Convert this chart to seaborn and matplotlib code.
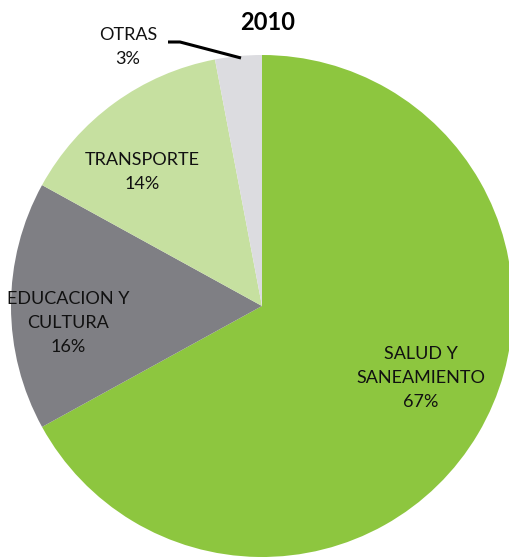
import matplotlib
matplotlib.use("Agg")
import matplotlib.pyplot as plt
import seaborn as sns

# data
categories = ["SALUD Y\nSANEAMIENTO", "EDUCACION Y\nCULTURA", "TRANSPORTE", "OTRAS"]
shares = [67, 16, 14, 3]
colors = ["#8DC63F", "#7F7F84", "#C6E0A0", "#DCDCE0"]
title = "2010"

sns.set_theme(style="white")
plt.rcParams['font.family'] = ['Lato', 'DejaVu Sans']

W, H = 509, 558
fig = plt.figure(figsize=(W / 100, H / 100), dpi=100)
ax = fig.add_axes([0, 0, 1, 1])

cx, cy, r = 262, H - 306, 251
ax.pie(shares, colors=colors, startangle=90, counterclock=False,
       center=(cx, cy), radius=r, frame=True,
       wedgeprops=dict(linewidth=0))
ax.set_xlim(0, W)
ax.set_ylim(0, H)
ax.axis('off')

# label positions in pixel coords (x, y from top)
label_pos = [(421, 378), (68, 323), (142, 172), (128, 47)]
for cat, val, (px, py) in zip(categories, shares, label_pos):
    ax.text(px, H - py, f"{cat}\n{val}%", ha='center', va='center',
            fontsize=13, color='#111111', linespacing=1.65)

# leader line for OTRAS
ax.plot([168, 180, 241], [H - 42, H - 42, H - 58], color='black', lw=2.2,
        solid_capstyle='butt')

ax.text(268, H - 22, title, ha='center', va='center', fontsize=17,
        fontweight='bold', color='black')

fig.savefig("out.png", dpi=100)
